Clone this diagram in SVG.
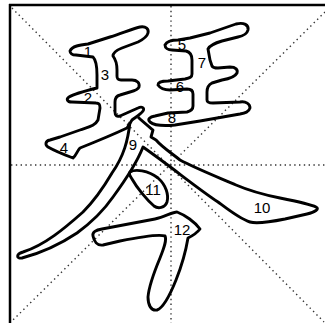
<svg xmlns="http://www.w3.org/2000/svg" width="325" height="323" viewBox="0 0 325 323">
<style>
.g{stroke:#333;stroke-width:1.4;stroke-dasharray:1.4 3.4;fill:none}
.s{fill:none;stroke:#000;stroke-width:2.9;stroke-linejoin:round}
.n{font-family:"Liberation Sans",Arial,sans-serif;font-size:15px;fill:#000;text-anchor:middle}
</style>
<rect width="325" height="323" fill="#fff"/>
<g id="grid">
<line class="g" x1="12" y1="8" x2="324" y2="322"/>
<line class="g" x1="325" y1="12" x2="12" y2="321"/>
<line class="g" x1="171" y1="6" x2="171" y2="323"/>
<line class="g" x1="11" y1="165" x2="325" y2="165"/>
<line x1="9" y1="5" x2="325" y2="5" stroke="#000" stroke-width="2.5"/>
<line x1="10" y1="4" x2="10" y2="323" stroke="#000" stroke-width="2.5"/>
</g>
<g id="wang-left">
<path class="s" d="M70,51 C72,46 80,45 88,44 L110,37 C125,32 135,28 140,27 C146,26 149,29 148,33 C147,37 142,40 138,42 L122,48 C117,50 113,53 113,56 C116,60 117,64 117,70 L117,76 C117,79 118,80 121,80 L132,80 C137,80 140,83 139,87 C138,90 134,91 130,92 L120,95 C116,96 115,99 115,102 L115,112 C115,116 117,117 120,116 L138,108 C142,106 145,108 143,111 C141,114 136,117 132,120 L127,128 C110,136 90,144 80,148 C77,151 76,156 73,158 C65,155 55,151 48,147 C45,145 45,141 50,140 L60,137 L80,130 C88,127 95,126 98,120 L100,108 C100,104 99,103 96,103 L72,102 C67,102 66,99 69,97 C74,94 85,91 97,88 L97,75 C97,65 96,60 93,57 L76,55 C72,55 70,53 70,51 Z"/>
<text class="n" x="88" y="57">1</text>
<text class="n" x="88" y="103">2</text>
<text class="n" x="105" y="80">3</text>
<text class="n" x="64" y="153">4</text>
</g>
<g id="wang-right">
<path class="s" d="M165,45 C167,41 172,40 178,40 L190,38 L210,33 L236,24 C244,22 249,25 248,30 C247,34 243,36 238,37 L222,41 C215,43 210,45 208,49 L210,60 L212,66 C213,68 215,68 218,68 L230,67 C236,67 238,70 237,73 C235,77 228,79 222,80 L212,83 C208,85 207,88 207,92 L207,100 C207,102 209,103 213,103 L240,102 C246,101 250,104 250,108 C249,112 245,113 240,114 L200,121 L175,125 C165,126 155,126 150,122 C147,119 150,117 155,116 L168,113 L187,112 C191,111 193,109 193,106 L193,94 C193,91 191,89 187,89 L170,90 C165,90 160,88 158,85 C158,82 162,81 168,81 L185,79 C190,78 192,77 192,74 L192,60 C192,55 190,52 186,51 L172,50 C168,50 165,48 165,45 Z"/>
<text class="n" x="182" y="50">5</text>
<text class="n" x="180" y="92">6</text>
<text class="n" x="202" y="68">7</text>
<text class="n" x="172" y="123">8</text>
</g>
<g id="ren">
<path class="s" d="M130,122 C128,140 124,156 112,173 C102,190 92,203 83,212 C65,228 45,245 23,252 C16,254 16,259 22,258 C45,252 62,243 77,233 C92,222 104,210 113,197 C124,182 136,165 143,147 C150,152 157,157 165,163 C180,174 200,190 218,202 C230,211 240,219 250,222 C257,224 270,222 285,219 L307,214 C315,212 320,209 316,207 C310,204 295,201 280,198 C265,195 250,191 236,185 C215,176 195,168 180,160 C170,152 162,147 156,140 L151,137 L153,130 C147,125 142,121 138,117"/>
<text class="n" x="133" y="150">9</text>
<text class="n" x="262" y="213">10</text>
</g>
<g id="dian">
<path class="s" d="M130,172 C135,169 148,170 158,178 C166,185 169,195 167,202 C165,208 158,209 154,206 C147,200 137,188 132,179 C130,176 129,173 130,172 Z"/>
<text class="n" x="153" y="195">11</text>
</g>
<g id="hengzhe">
<path class="s" d="M93,236 C92,232 96,230 102,229 L155,219 C165,217 172,212 177,212 C185,215 195,222 200,229 C197,233 192,236 188,238 C186,250 182,265 176,280 C170,295 163,308 157,310 C151,311 148,305 148,297 C149,285 155,270 160,258 C164,248 167,240 165,236 C158,234 140,237 120,241 L103,245 C97,246 94,241 93,236 Z"/>
<text class="n" x="182" y="235">12</text>
</g>
</svg>
